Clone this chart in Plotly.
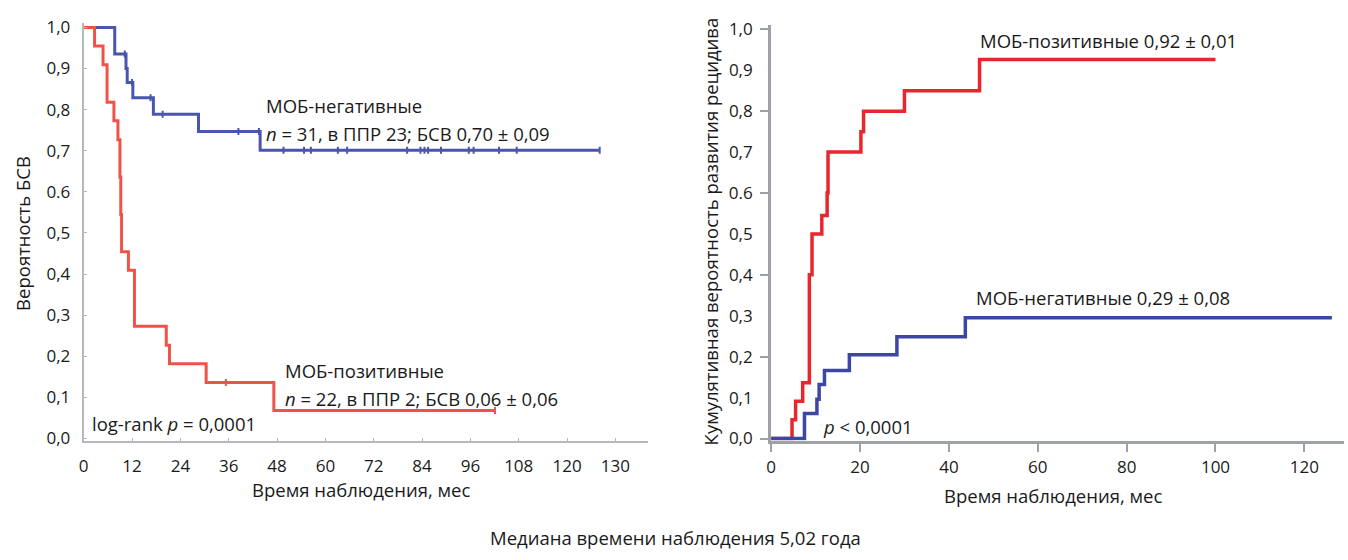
import plotly.graph_objects as go
import numpy as np

# ---------------- data ----------------
# Left: Kaplan-Meier event-free survival (БСВ)
neg_t = [0, 7.7, 10.5, 10.8, 12.2, 17.3, 28.5, 43.8, 128.1]
neg_s = [1.0, 0.935, 0.90, 0.866, 0.829, 0.789, 0.747, 0.701, 0.701]
neg_cens = [10.2, 12.0, 16.6, 19.6, 38.4, 43.5, 49.6, 54.7, 56.4, 63.1, 65.4, 80.3,
            83.6, 84.6, 85.5, 88.7, 95.6, 96.8, 103.1, 107.5, 128.1]

pos_t = [0, 2.7, 4.8, 5.8, 7.5, 8.5, 9.0, 9.2, 9.4, 11.1, 12.6, 20.5, 21.3, 30.4, 47.2, 102.1]
pos_s = [1.0, 0.955, 0.909, 0.818, 0.773, 0.727, 0.636, 0.545, 0.4545, 0.409, 0.273,
         0.227, 0.182, 0.136, 0.068, 0.068]
pos_cens = [35.3, 102.1]

# Right: cumulative incidence of relapse
rpos_t = [0, 4.7, 5.5, 7.1, 8.6, 9.2, 11.4, 12.6, 12.8, 20.2, 20.8, 30.0, 46.9, 100]
rpos_v = [0, 0.046, 0.091, 0.136, 0.40, 0.50, 0.545, 0.60, 0.70, 0.75, 0.80, 0.85, 0.926, 0.926]

rneg_t = [0, 7.5, 10.3, 10.8, 12.0, 17.6, 28.3, 43.7, 126.2]
rneg_v = [0, 0.061, 0.096, 0.132, 0.166, 0.205, 0.249, 0.295, 0.295]

# tick labels
y_tickvals = [0, 0.1, 0.2, 0.3, 0.4, 0.5, 0.6, 0.7, 0.8, 0.9, 1.0]
y_ticktext = ["0,0", "0,1", "0,2", "0,3", "0,4", "0,5", "0.6", "0,7", "0,8", "0,9", "1,0"]
lx_tickvals = [0, 12, 24, 36, 48, 60, 72, 84, 96, 108, 120, 132]
lx_ticktext = ["0", "12", "24", "36", "48", "60", "72", "84", "96", "108", "120", "130"]
rx_tickvals = [0, 20, 40, 60, 80, 100, 120]
rx_ticktext = ["0", "20", "40", "60", "80", "100", "120"]

# ---------------- helpers ----------------
W, H = 1348, 560
FONT = "Open Sans"
TXT = 18.5


def step_at(ts, vs, t):
    idx = np.searchsorted(np.array(ts), t, side="right") - 1
    return vs[max(idx, 0)]


def px(x):
    return x / W


def py(y):
    return 1 - y / H


BLUE_L = "#4a55ad"
RED_L = "#f0524a"
BLUE_R = "#3b47a3"
RED_R = "#e8262d"

fig = go.Figure()

fig.add_trace(go.Scatter(x=neg_t, y=neg_s, mode="lines", line=dict(shape="hv", color=BLUE_L, width=3),
                         xaxis="x", yaxis="y", showlegend=False, hoverinfo="skip"))
fig.add_trace(go.Scatter(x=neg_cens, y=[step_at(neg_t, neg_s, c) for c in neg_cens], mode="markers",
                         marker=dict(symbol="line-ns-open", size=5, color=BLUE_L,
                                     line=dict(color=BLUE_L, width=2)),
                         xaxis="x", yaxis="y", showlegend=False, hoverinfo="skip"))
fig.add_trace(go.Scatter(x=pos_t, y=pos_s, mode="lines", line=dict(shape="hv", color=RED_L, width=3),
                         xaxis="x", yaxis="y", showlegend=False, hoverinfo="skip"))
fig.add_trace(go.Scatter(x=pos_cens, y=[step_at(pos_t, pos_s, c) for c in pos_cens], mode="markers",
                         marker=dict(symbol="line-ns-open", size=5, color=RED_L,
                                     line=dict(color=RED_L, width=2)),
                         xaxis="x", yaxis="y", showlegend=False, hoverinfo="skip"))

fig.add_trace(go.Scatter(x=rpos_t, y=rpos_v, mode="lines", line=dict(shape="hv", color=RED_R, width=3.5),
                         xaxis="x2", yaxis="y2", showlegend=False, hoverinfo="skip"))
fig.add_trace(go.Scatter(x=rneg_t, y=rneg_v, mode="lines", line=dict(shape="hv", color=BLUE_R, width=3.5),
                         xaxis="x2", yaxis="y2", showlegend=False, hoverinfo="skip"))

# geometry (pixels)
L_X0, L_PPU = 79, 4.043
R_X0, R_PPU = 769, 4.46
L_XMAX, R_XMAX = 140, 129
YR = [-0.005, 1.01]
ly0 = 444 + 0.005 * 424
ly1 = 20 - 0.01 * 424
ry0 = 444 + 0.005 * 422
ry1 = 22 - 0.01 * 422

tickfont = dict(family=FONT, size=17, color="#1a1a1a")

fig.update_layout(
    width=W, height=H, margin=dict(l=0, r=0, t=0, b=0),
    paper_bgcolor="white", plot_bgcolor="white",
    font=dict(family=FONT, size=16, color="#1a1a1a"),
    xaxis=dict(domain=[px(L_X0), px(L_X0 + L_XMAX * L_PPU)], range=[0, L_XMAX],
               tickvals=lx_tickvals, ticktext=lx_ticktext, tickfont=tickfont,
               showgrid=False, zeroline=False, showline=True, linecolor="#b5b9bd", linewidth=2,
               ticks="inside", ticklen=3, tickcolor="#b5b9bd", tickwidth=1, ticklabelstandoff=9,
               anchor="y"),
    yaxis=dict(domain=[py(ly0), py(ly1)], range=YR,
               tickvals=y_tickvals, ticktext=y_ticktext, tickfont=tickfont,
               showgrid=False, zeroline=False, showline=True, linecolor="#b5b9bd", linewidth=2,
               ticks="inside", ticklen=3, tickcolor="#b5b9bd", tickwidth=1, ticklabelstandoff=8,
               anchor="x"),
    xaxis2=dict(domain=[px(R_X0), px(R_X0 + R_XMAX * R_PPU)], range=[0, R_XMAX],
                tickvals=rx_tickvals, ticktext=rx_ticktext, tickfont=tickfont,
                showgrid=False, zeroline=False, showline=True, linecolor="#9ea2a6", linewidth=3,
                ticks="outside", ticklen=8, tickcolor="#9ea2a6", tickwidth=2, ticklabelstandoff=1,
                anchor="y2"),
    yaxis2=dict(domain=[py(ry0), py(ry1)], range=YR,
                tickvals=y_tickvals, ticktext=y_ticktext, tickfont=tickfont,
                showgrid=False, zeroline=False, showline=True, linecolor="#9ea2a6", linewidth=3,
                ticks="", ticklabelstandoff=12,
                minor=dict(tickvals=[0, 0.2, 0.4, 0.6, 0.8, 1.0], ticks="outside", ticklen=8,
                           tickcolor="#9ea2a6", tickwidth=2),
                anchor="x2"),
)


def ann(text, x, y, xanchor="left", angle=0, size=TXT):
    fig.add_annotation(text=text, x=px(x), y=py(y), xref="paper", yref="paper",
                       xanchor=xanchor, yanchor="middle", showarrow=False, textangle=angle,
                       font=dict(family=FONT, size=size, color="#1a1a1a"))


# left annotations
ann("МОБ-негативные", 260, 101)
ann("<i>n</i> = 31, в ППР 23; БСВ 0,70 ± 0,09", 260, 129)
ann("МОБ-позитивные", 279, 374)
ann("<i>n</i> = 22, в ППР 2; БСВ 0,06 ± 0,06", 279, 403)
ann("log-rank <i>p</i> = 0,0001", 85, 428)
# right annotations
ann("МОБ-позитивные 0,92 ± 0,01", 977, 34)
ann("МОБ-негативные 0,29 ± 0,08", 973, 299)
ann("<i>p</i> < 0,0001", 819, 432)
# axis titles
ann("Время наблюдения, мес", 357, 497, xanchor="center")
ann("Время наблюдения, мес", 1052, 503, xanchor="center")
ann("Вероятность БСВ", 18, 232, xanchor="center", angle=-90)
ann("Кумулятивная вероятность развития рецидива", 708, 230, xanchor="center", angle=-90)
# caption
ann("Медиана времени наблюдения 5,02 года", 673, 546, xanchor="center")

fig.write_html("out.html")
